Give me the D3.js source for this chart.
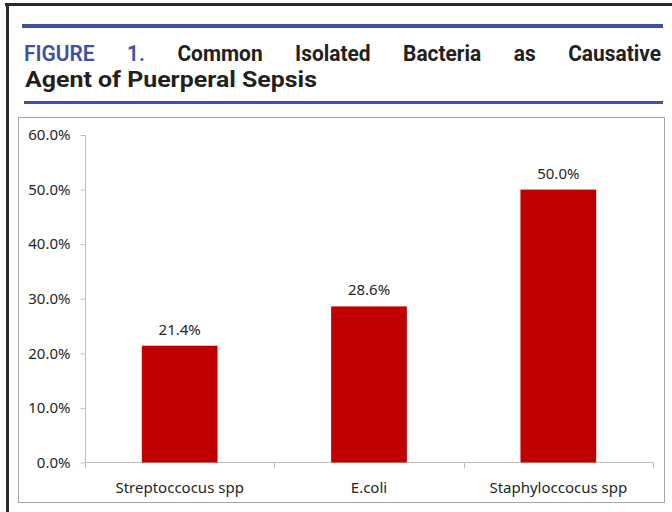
<!DOCTYPE html>
<html>
<head>
<meta charset="utf-8">
<script src="https://cdn.jsdelivr.net/npm/d3@7"></script>
<style>
  body { margin: 0; background: #fff; }
  svg { display: block; }
</style>
</head>
<body>
<svg id="chart" width="672" height="512"></svg>
<script>
// chart data
const categories = ["Streptoccocus spp", "E.coli", "Staphyloccocus spp"]
const values = [21.4, 28.6, 50.0]
const yTicks = [0, 10, 20, 30, 40, 50, 60]
const titleWords = ["FIGURE", "1.", "Common", "Isolated", "Bacteria", "as", "Causative"]
const titleLine2 = "Agent of Puerperal Sepsis"

const svg = d3.select("#chart")
const blue = "#3f51a0"

// outer page frame (top + left edge)
svg.append("rect").attr("x", 5).attr("y", 3).attr("width", 672).attr("height", 3).attr("fill", "#2b2b2b")
svg.append("rect").attr("x", 6).attr("y", 3).attr("width", 3).attr("height", 512).attr("fill", "#2b2b2b")

// blue rules
svg.append("rect").attr("x", 22).attr("y", 24).attr("width", 641).attr("height", 4).attr("fill", blue)
svg.append("rect").attr("x", 24).attr("y", 101).attr("width", 639).attr("height", 3).attr("fill", blue)

// title line 1, justified word by word
const titleFont = "Roboto, 'Open Sans', sans-serif"
const squeeze = 0.95
const words = svg.append("g").selectAll("text")
	.data(titleWords)
	.enter()
	.append("text")
	.attr("y", 61)
	.attr("font-family", titleFont)
	.attr("font-weight", (d, i) => i < 2 ? 600 : 700)
	.attr("font-size", 22)
	.attr("fill", (d, i) => i < 2 ? blue : "#231f20")
	.text(d => d)

const widths = []
words.each(function(){ widths.push(this.getComputedTextLength() * squeeze) })
words.attr("textLength", (d, i) => widths[i]).attr("lengthAdjust", "spacingAndGlyphs")
const lineStart = 24, lineEnd = 661
const gap = (lineEnd - lineStart - d3.sum(widths)) / (titleWords.length - 1)
let xpos = lineStart
words.attr("x", (d, i) => {
	const x = xpos
	xpos += widths[i] + gap
	return x
})

svg.append("text")
	.attr("x", 25)
	.attr("y", 87)
	.attr("font-family", titleFont)
	.attr("font-weight", 700)
	.attr("font-size", 22)
	.attr("fill", "#231f20")
	.attr("textLength", 292)
	.attr("lengthAdjust", "spacingAndGlyphs")
	.text(titleLine2)

// chart box
svg.append("rect")
	.attr("x", 18.5).attr("y", 117.5)
	.attr("width", 646).attr("height", 385)
	.attr("fill", "none")
	.attr("stroke", "#a6a6a6")

const x = d3.scaleBand()
	.domain(categories)
	.range([85, 653])
	.paddingInner(0.6)
	.paddingOuter(0.3)

const y = d3.scaleLinear()
	.domain([0, 60])
	.range([462.5, 135])

const labelFont = "'Noto Sans', 'Open Sans', sans-serif"

// y axis
const yAxis = svg.append("g")
	.attr("transform", "translate(85.5,0)")
	.call(d3.axisLeft(y).tickValues(yTicks).tickSize(5).tickPadding(10)
		.tickFormat(d => d.toFixed(1) + "%"))
yAxis.select(".domain").attr("stroke", "#bfbfbf").attr("d", `M0,${y(60)}V${y(0)}`)
yAxis.selectAll(".tick line").attr("stroke", "#bfbfbf")
yAxis.selectAll(".tick text")
	.attr("font-family", labelFont)
	.attr("font-size", 15)
	.attr("fill", "#262626")

// x axis
const xAxis = svg.append("g")
	.attr("transform", `translate(0,${y(0)})`)
xAxis.append("line")
	.attr("x1", 85).attr("x2", 653)
	.attr("stroke", "#bfbfbf")
const bounds = [85].concat(categories.map(c => x(c) + x.bandwidth() + x.step() * x.paddingInner() / 2))
bounds[bounds.length - 1] = 653
xAxis.selectAll(".xtick")
	.data(bounds)
	.enter()
	.append("line")
	.attr("x1", d => Math.round(d) + 0.5).attr("x2", d => Math.round(d) + 0.5)
	.attr("y1", 0).attr("y2", 6)
	.attr("stroke", "#bfbfbf")
xAxis.selectAll(".xlab")
	.data(categories)
	.enter()
	.append("text")
	.attr("x", d => x(d) + x.bandwidth() / 2)
	.attr("y", 30)
	.attr("text-anchor", "middle")
	.attr("font-family", labelFont)
	.attr("font-size", 15)
	.attr("fill", "#262626")
	.text(d => d)

// bars
svg.selectAll(".bar")
	.data(values)
	.enter()
	.append("rect")
	.attr("x", (d, i) => x(categories[i]))
	.attr("y", d => y(d))
	.attr("width", x.bandwidth())
	.attr("height", d => y(0) - y(d))
	.attr("fill", "#c00000")

svg.selectAll(".val")
	.data(values)
	.enter()
	.append("text")
	.attr("x", (d, i) => x(categories[i]) + x.bandwidth() / 2)
	.attr("y", d => y(d) - 11)
	.attr("text-anchor", "middle")
	.attr("font-family", labelFont)
	.attr("font-size", 15)
	.attr("fill", "#262626")
	.text(d => d.toFixed(1) + "%")
</script>
</body>
</html>
